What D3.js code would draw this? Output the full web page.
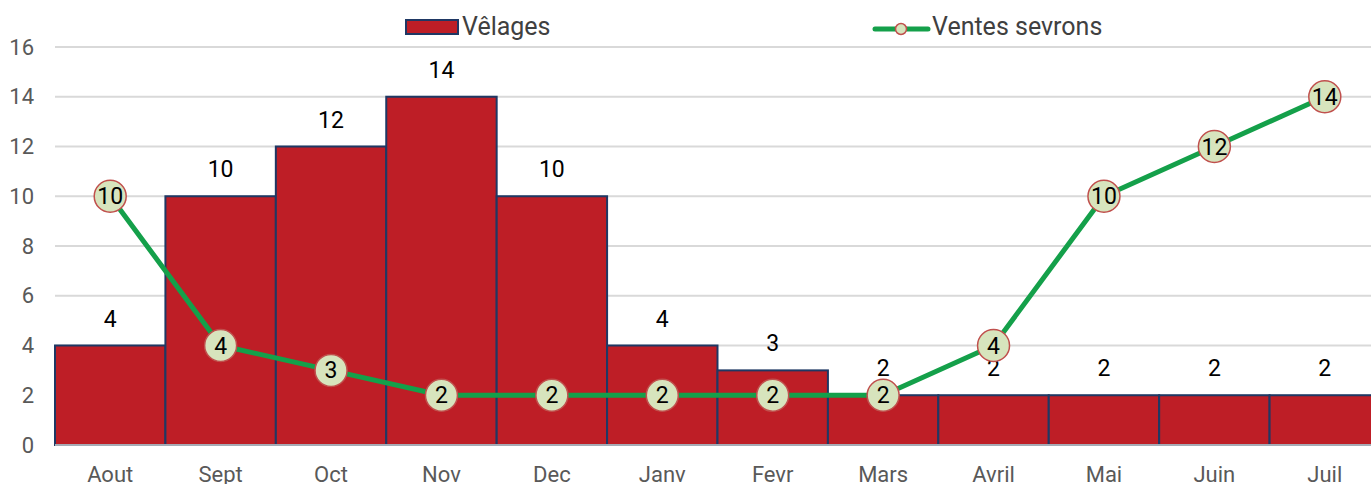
<!DOCTYPE html>
<html>
<head>
<meta charset="utf-8">
<script src="https://cdn.jsdelivr.net/npm/d3@7"></script>
<style>
  body { margin: 0; background: #fff; }
  svg { display: block; font-family: "Roboto", sans-serif; }
</style>
</head>
<body>
<main></main>
<script>
// months on the x axis
const months = ["Aout", "Sept", "Oct", "Nov", "Dec", "Janv", "Fevr", "Mars", "Avril", "Mai", "Juin", "Juil"];
// bars
const velages = [4, 10, 12, 14, 10, 4, 3, 2, 2, 2, 2, 2];
// line
const ventes = [10, 4, 3, 2, 2, 2, 2, 2, 4, 10, 12, 14];
const yTicks = [0, 2, 4, 6, 8, 10, 12, 14, 16];

let width = 1371;
let height = 484;
// plot runs a little past the right edge, like the original
const margin = { top: 47, bottom: 39, left: 55, right: -9 };

const svg = d3.select("main")
    .append("svg")
    .attr("width", width)
    .attr("height", height);

const x = d3.scaleBand()
    .domain(months)
    .range([margin.left, width - margin.right])
    .padding(0);

const y = d3.scaleLinear()
    .domain([0, 16])
    .range([height - margin.bottom, margin.top]);

// gridlines
svg.append("g")
    .selectAll("line")
    .data(yTicks.filter(d => d > 0))
    .join("line")
    .attr("x1", margin.left)
    .attr("x2", width)
    .attr("y1", d => y(d))
    .attr("y2", d => y(d))
    .attr("stroke", "#d9d9d9")
    .attr("stroke-width", 2);

// y labels
svg.append("g")
    .selectAll("text")
    .data(yTicks)
    .join("text")
    .attr("x", 34)
    .attr("y", d => y(d))
    .attr("dy", "0.35em")
    .attr("text-anchor", "end")
    .attr("font-size", 22)
    .attr("fill", "#595959")
    .text(d => d);

// bars
svg.append("g")
    .selectAll("rect")
    .data(velages)
    .join("rect")
    .attr("x", (d, i) => x(months[i]))
    .attr("y", d => y(d))
    .attr("width", x.bandwidth())
    .attr("height", d => y(0) - y(d))
    .attr("fill", "#be1e26")
    .attr("stroke", "#1f3864")
    .attr("stroke-width", 2);

// bar labels
svg.append("g")
    .selectAll("text")
    .data(velages)
    .join("text")
    .attr("x", (d, i) => x(months[i]) + x.bandwidth() / 2)
    .attr("y", d => y(d) - 27)
    .attr("dy", "0.35em")
    .attr("text-anchor", "middle")
    .attr("font-size", 23)
    .attr("fill", "#000")
    .text(d => d);

// baseline
svg.append("line")
    .attr("x1", margin.left)
    .attr("x2", width)
    .attr("y1", y(0))
    .attr("y2", y(0))
    .attr("stroke", "#a6abb5")
    .attr("stroke-width", 2);

// x labels
svg.append("g")
    .selectAll("text")
    .data(months)
    .join("text")
    .attr("x", d => x(d) + x.bandwidth() / 2)
    .attr("y", 474)
    .attr("dy", "0.35em")
    .attr("text-anchor", "middle")
    .attr("font-size", 22)
    .attr("fill", "#595959")
    .text(d => d);

// line
const line = d3.line()
    .x((d, i) => x(months[i]) + x.bandwidth() / 2)
    .y(d => y(d));

svg.append("path")
    .attr("d", line(ventes))
    .attr("fill", "none")
    .attr("stroke", "#14a04a")
    .attr("stroke-width", 5)
    .attr("stroke-linejoin", "round");

const pts = svg.append("g")
    .selectAll("g")
    .data(ventes)
    .join("g")
    .attr("transform", (d, i) => "translate(" + (x(months[i]) + x.bandwidth() / 2) + "," + y(d) + ")");

pts.append("circle")
    .attr("r", 16)
    .attr("fill", "#d7e4bd")
    .attr("stroke", "#c0504d")
    .attr("stroke-width", 1.5);

pts.append("text")
    .attr("dy", "0.35em")
    .attr("text-anchor", "middle")
    .attr("font-size", 23)
    .attr("fill", "#000")
    .text(d => d);

// legend
const legend = svg.append("g");
legend.append("rect")
    .attr("x", 406)
    .attr("y", 20)
    .attr("width", 52)
    .attr("height", 14)
    .attr("fill", "#be1e26")
    .attr("stroke", "#1f3864")
    .attr("stroke-width", 2);
legend.append("text")
    .attr("x", 462)
    .attr("y", 26)
    .attr("dy", "0.35em")
    .attr("font-size", 25)
    .attr("fill", "#404040")
    .text("Vêlages");

legend.append("line")
    .attr("x1", 875)
    .attr("x2", 928)
    .attr("y1", 29)
    .attr("y2", 29)
    .attr("stroke", "#14a04a")
    .attr("stroke-width", 5)
    .attr("stroke-linecap", "round");
legend.append("circle")
    .attr("cx", 901)
    .attr("cy", 29)
    .attr("r", 5.5)
    .attr("fill", "#d7e4bd")
    .attr("stroke", "#c0504d")
    .attr("stroke-width", 1.5);
legend.append("text")
    .attr("x", 932)
    .attr("y", 26)
    .attr("dy", "0.35em")
    .attr("font-size", 25)
    .attr("fill", "#404040")
    .text("Ventes sevrons");
</script>
</body>
</html>
